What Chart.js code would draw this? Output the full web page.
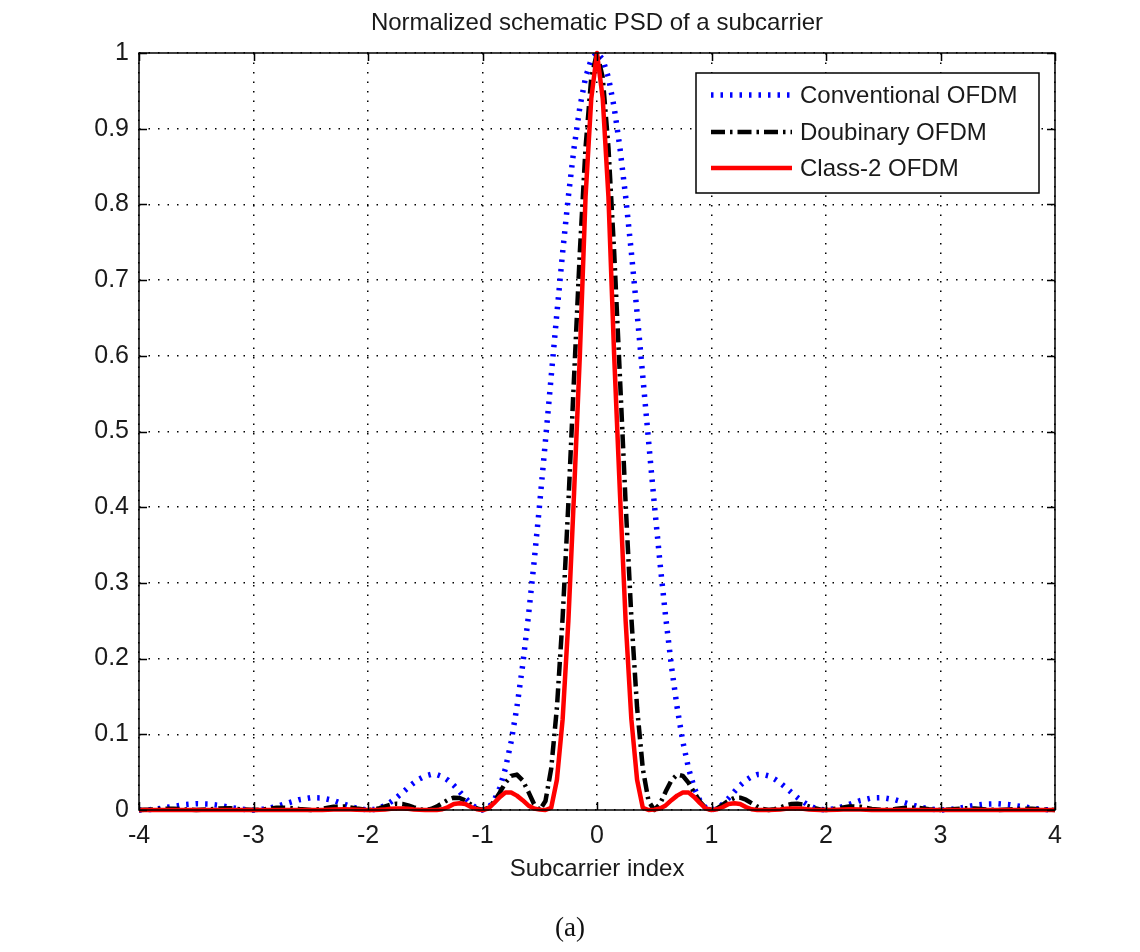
<!DOCTYPE html>
<html>
<head>
<meta charset="utf-8">
<script src="https://cdn.jsdelivr.net/npm/chart.js@4.4.1/dist/chart.umd.min.js"></script>
<style>
  html, body { margin: 0; padding: 0; background: #fff; }
  #wrap { position: relative; width: 1140px; height: 952px; }
  #caption { position: absolute; left: 0; width: 1140px; top: 912px; text-align: center;
             font-family: "Liberation Serif", "DejaVu Serif", serif; font-size: 27px; color: #111; }
</style>
</head>
<body>
<div id="wrap">
  <canvas id="c" width="1140" height="952"></canvas>
  <div id="caption">(a)</div>
</div>
<script>
// ---- data ----
const titleText = "Normalized schematic PSD of a subcarrier";
const xTitle = "Subcarrier index";
const seriesNames = ["Conventional OFDM", "Doubinary OFDM", "Class-2 OFDM"];

const xTicks = [-4, -3, -2, -1, 0, 1, 2, 3, 4];
const yTicks = [0, 0.1, 0.2, 0.3, 0.4, 0.5, 0.6, 0.7, 0.8, 0.9, 1];

// subcarrier index samples
const xIndex = [
  -4.0, -3.9, -3.8, -3.7, -3.6, -3.5, -3.4, -3.3, -3.2, -3.1,
  -3.0, -2.9, -2.8, -2.7, -2.6, -2.5, -2.4, -2.3, -2.2, -2.1,
  -2.0, -1.95, -1.9, -1.85, -1.8, -1.75, -1.7, -1.65, -1.6, -1.55,
  -1.5, -1.45, -1.4, -1.35, -1.3, -1.25, -1.2, -1.15, -1.1, -1.05,
  -1.0, -0.95, -0.9, -0.85, -0.8, -0.75, -0.7, -0.65, -0.6, -0.55,
  -0.5, -0.45, -0.4, -0.35, -0.3, -0.25, -0.2, -0.15, -0.1, -0.05,
  0.0,
  0.05, 0.1, 0.15, 0.2, 0.25, 0.3, 0.35, 0.4, 0.45, 0.5,
  0.55, 0.6, 0.65, 0.7, 0.75, 0.8, 0.85, 0.9, 0.95, 1.0,
  1.05, 1.1, 1.15, 1.2, 1.25, 1.3, 1.35, 1.4, 1.45, 1.5,
  1.55, 1.6, 1.65, 1.7, 1.75, 1.8, 1.85, 1.9, 1.95, 2.0,
  2.1, 2.2, 2.3, 2.4, 2.5, 2.6, 2.7, 2.8, 2.9, 3.0,
  3.1, 3.2, 3.3, 3.4, 3.5, 3.6, 3.7, 3.8, 3.9, 4.0
];

const conventional = [
  0, 0.0006, 0.0024, 0.0048, 0.0071, 0.0083, 0.0079, 0.0061, 0.0034, 0.0010,
  0, 0.0012, 0.0045, 0.0091, 0.0136, 0.0162, 0.0159, 0.0125, 0.0072, 0.0022,
  0, 0.0007, 0.0027, 0.0061, 0.0108, 0.0165, 0.0229, 0.0295, 0.0358, 0.0411,
  0.0450, 0.0470, 0.0468, 0.0441, 0.0392, 0.0324, 0.0243, 0.0158, 0.0080, 0.0022,
  0, 0.0027, 0.0119, 0.0289, 0.0547, 0.0901, 0.1353, 0.1904, 0.2546, 0.3267,
  0.4053, 0.4881, 0.5728, 0.6566, 0.7368, 0.8106, 0.8751, 0.9281, 0.9675, 0.9918,
  1.0,
  0.9918, 0.9675, 0.9281, 0.8751, 0.8106, 0.7368, 0.6566, 0.5728, 0.4881, 0.4053,
  0.3267, 0.2546, 0.1904, 0.1353, 0.0901, 0.0547, 0.0289, 0.0119, 0.0027, 0,
  0.0022, 0.0080, 0.0158, 0.0243, 0.0324, 0.0392, 0.0441, 0.0468, 0.0470, 0.0450,
  0.0411, 0.0358, 0.0295, 0.0229, 0.0165, 0.0108, 0.0061, 0.0027, 0.0007, 0,
  0.0022, 0.0072, 0.0125, 0.0159, 0.0162, 0.0136, 0.0091, 0.0045, 0.0012, 0,
  0.0010, 0.0034, 0.0061, 0.0079, 0.0083, 0.0071, 0.0048, 0.0024, 0.0006, 0
];

const doubinary = [
  0, 0.0006, 0.0016, 0.0017, 0.0007, 0, 0.0008, 0.0021, 0.0022, 0.0009,
  0, 0.0010, 0.0029, 0.0031, 0.0013, 0, 0.0015, 0.0043, 0.0047, 0.0020,
  0, 0.0006, 0.0024, 0.0048, 0.0071, 0.0083, 0.0079, 0.0061, 0.0034, 0.0010,
  0, 0.0012, 0.0045, 0.0091, 0.0136, 0.0162, 0.0159, 0.0125, 0.0072, 0.0022,
  0, 0.0027, 0.0108, 0.0229, 0.0358, 0.0450, 0.0468, 0.0392, 0.0243, 0.0080,
  0, 0.0119, 0.0547, 0.1353, 0.2546, 0.4053, 0.5728, 0.7368, 0.8751, 0.9675,
  1.0,
  0.9675, 0.8751, 0.7368, 0.5728, 0.4053, 0.2546, 0.1353, 0.0547, 0.0119, 0,
  0.0080, 0.0243, 0.0392, 0.0468, 0.0450, 0.0358, 0.0229, 0.0108, 0.0027, 0,
  0.0022, 0.0072, 0.0125, 0.0159, 0.0162, 0.0136, 0.0091, 0.0045, 0.0012, 0,
  0.0010, 0.0034, 0.0061, 0.0079, 0.0083, 0.0071, 0.0048, 0.0024, 0.0006, 0,
  0.0020, 0.0047, 0.0043, 0.0015, 0, 0.0013, 0.0031, 0.0029, 0.0010, 0,
  0.0009, 0.0022, 0.0021, 0.0008, 0, 0.0007, 0.0017, 0.0016, 0.0006, 0
];

const class2 = [
  0, 0, 0, 0, 0, 0, 0, 0, 0, 0,
  0, 0, 0, 0, 0, 0, 0.0001, 0.0006, 0.0009, 0.0004,
  0, 0, 0.0002, 0.0008, 0.0015, 0.0020, 0.0020, 0.0015, 0.0008, 0.0003,
  0, 0, 0, 0.0010, 0.0040, 0.0080, 0.0090, 0.0080, 0.0040, 0.0010,
  0, 0.0020, 0.0090, 0.0170, 0.0230, 0.0230, 0.0190, 0.0130, 0.0060, 0.0020,
  0.0005, 0, 0.0030, 0.0400, 0.1200, 0.2500, 0.4200, 0.6000, 0.8100, 0.9400,
  1.0,
  0.9400, 0.8100, 0.6000, 0.4200, 0.2500, 0.1200, 0.0400, 0.0030, 0, 0.0005,
  0.0020, 0.0060, 0.0130, 0.0190, 0.0230, 0.0230, 0.0170, 0.0090, 0.0020, 0,
  0.0010, 0.0040, 0.0080, 0.0090, 0.0080, 0.0040, 0.0010, 0, 0, 0,
  0.0003, 0.0008, 0.0015, 0.0020, 0.0020, 0.0015, 0.0008, 0.0002, 0, 0,
  0.0004, 0.0009, 0.0006, 0.0001, 0, 0, 0, 0, 0, 0,
  0, 0, 0, 0, 0, 0, 0, 0, 0, 0
];

// ---- styles ----
const FONT = '"Liberation Sans", Arial, sans-serif';
const TEXT_COLOR = '#1a1a1a';
const colors = ['#0000ff', '#000000', '#ff0000'];
const widths = [5.5, 4.5, 4.5];
const dashes = [[2.5, 7], [14, 5, 2.5, 5], []];

function pts(ys) { return xIndex.map((x, i) => ({ x: x, y: ys[i] })); }

const datasets = [conventional, doubinary, class2].map((ys, i) => ({
  label: seriesNames[i],
  data: pts(ys),
  borderColor: colors[i],
  borderWidth: widths[i],
  borderDash: dashes[i],
  borderCapStyle: 'butt',
  borderJoinStyle: 'round',
  pointRadius: 0,
  tension: 0,
  fill: false,
  clip: 4,
  order: 2 - i
}));

const framePlugin = {
  id: 'frame',
  afterDatasetsDraw(chart) {
    const ctx = chart.ctx;
    const a = chart.chartArea;
    const xs = chart.scales.x, ys = chart.scales.y;
    ctx.save();
    ctx.strokeStyle = '#000';
    ctx.lineWidth = 1.5;
    ctx.setLineDash([]);
    ctx.strokeRect(a.left, a.top, a.right - a.left, a.bottom - a.top);
    // inward ticks
    const tl = 8;
    ctx.beginPath();
    xTicks.forEach(v => {
      const px = Math.round(xs.getPixelForValue(v)) + 0.5;
      ctx.moveTo(px, a.bottom); ctx.lineTo(px, a.bottom - tl);
      ctx.moveTo(px, a.top); ctx.lineTo(px, a.top + tl);
    });
    yTicks.forEach(v => {
      const py = Math.round(ys.getPixelForValue(v)) + 0.5;
      ctx.moveTo(a.left, py); ctx.lineTo(a.left + tl, py);
      ctx.moveTo(a.right, py); ctx.lineTo(a.right - tl, py);
    });
    ctx.stroke();

    // title
    ctx.fillStyle = TEXT_COLOR;
    ctx.font = '24px ' + FONT;
    ctx.textAlign = 'center';
    ctx.textBaseline = 'middle';
    ctx.fillText(titleText, (a.left + a.right) / 2, 23);
    // x axis title
    ctx.fillText(xTitle, (a.left + a.right) / 2, 869);

    // legend
    const bx = 696, by = 73, bw = 343, bh = 120;
    ctx.fillStyle = '#fff';
    ctx.fillRect(bx, by, bw, bh);
    ctx.lineWidth = 1.5;
    ctx.strokeStyle = '#000';
    ctx.strokeRect(bx, by, bw, bh);
    const rowsY = [95, 132, 168];
    seriesNames.forEach((name, i) => {
      ctx.save();
      ctx.strokeStyle = colors[i];
      ctx.lineWidth = widths[i];
      ctx.setLineDash(dashes[i]);
      ctx.lineCap = 'butt';
      ctx.beginPath();
      ctx.moveTo(711, rowsY[i]);
      ctx.lineTo(792, rowsY[i]);
      ctx.stroke();
      ctx.restore();
      ctx.fillStyle = TEXT_COLOR;
      ctx.textAlign = 'left';
      ctx.textBaseline = 'middle';
      ctx.font = '24px ' + FONT;
      ctx.fillText(name, 800, rowsY[i] + 1);
    });
    ctx.restore();
  }
};

new Chart(document.getElementById('c'), {
  type: 'line',
  data: { datasets: datasets },
  options: {
    responsive: false,
    animation: false,
    devicePixelRatio: 1,
    layout: { padding: { left: 0, top: 53, right: 85, bottom: 0 } },
    plugins: { legend: { display: false }, title: { display: false }, tooltip: { enabled: false } },
    scales: {
      x: {
        type: 'linear',
        min: -4, max: 4,
        afterBuildTicks: s => { s.ticks = xTicks.map(v => ({ value: v })); },
        afterFit: s => { s.height = 142; },
        grid: { color: '#000', lineWidth: 1.5, drawTicks: false },
        border: { display: false, dash: [1.5, 8] },
        ticks: {
          color: TEXT_COLOR, font: { family: FONT, size: 25 }, padding: 11,
          maxRotation: 0, autoSkip: false,
          callback: v => String(v)
        }
      },
      y: {
        type: 'linear',
        min: 0, max: 1,
        afterBuildTicks: s => { s.ticks = yTicks.map(v => ({ value: v })); },
        afterFit: s => { s.width = 139; },
        grid: { color: '#000', lineWidth: 1.5, drawTicks: false },
        border: { display: false, dash: [1.5, 8] },
        ticks: {
          color: TEXT_COLOR, font: { family: FONT, size: 25 }, padding: 10,
          callback: v => String(Math.round(v * 10) / 10)
        }
      }
    }
  },
  plugins: [framePlugin]
});
</script>
</body>
</html>
